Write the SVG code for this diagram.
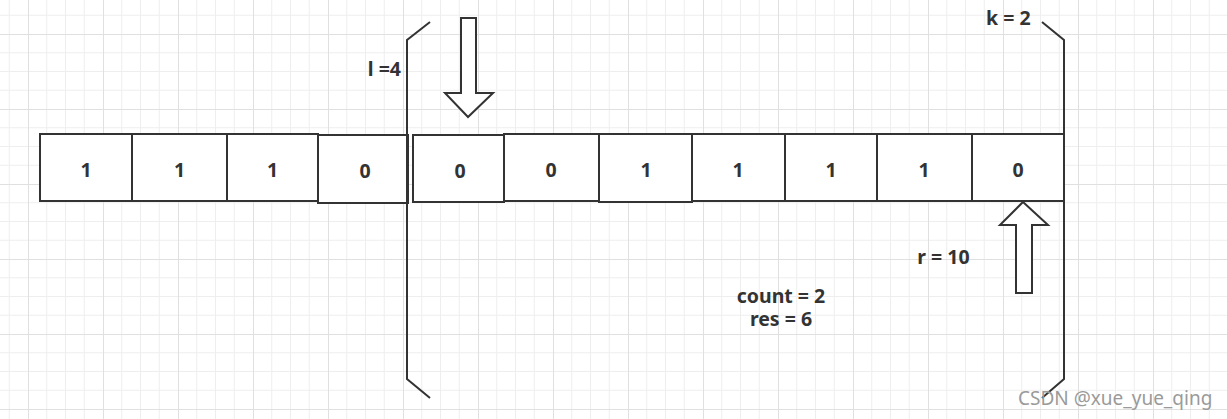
<svg xmlns="http://www.w3.org/2000/svg" width="1227" height="419" viewBox="0 0 1227 419">
<style>
.cell rect{fill:#fff;stroke:#333;stroke-width:2}
.lbl{font-family:"Noto Sans","Open Sans","Liberation Sans",sans-serif;font-weight:bold;font-size:19.5px;fill:#333}
.num{text-anchor:middle}
.br{fill:none;stroke:#333;stroke-width:2}
.arr{fill:#fff;stroke:#333;stroke-width:2;stroke-linejoin:miter}
.wm{font-family:"Noto Sans","Liberation Sans",sans-serif;font-size:19px;fill:#9a9a9a}
</style>
<defs>
<pattern id="grid" x="28" y="34" width="75" height="75" patternUnits="userSpaceOnUse">
<path d="M18.75 0V75M37.5 0V75M56.25 0V75M0 18.75H75M0 37.5H75M0 56.25H75" stroke="#eeeeee" stroke-width="1" fill="none"/>
<path d="M0.5 0V75M0 0.5H75" stroke="#e0e0e0" stroke-width="1" fill="none"/>
</pattern>
</defs>
<rect width="1227" height="419" fill="#fff"/>
<rect width="1227" height="419" fill="url(#grid)"/>

<g id="cells">
<g id="c0" class="cell"><rect x="40" y="134" width="92" height="67"/><text class="lbl num" x="86" y="176.5">1</text></g>
<g id="c1" class="cell"><rect x="132" y="134" width="95" height="67"/><text class="lbl num" x="179.5" y="176.5">1</text></g>
<g id="c2" class="cell"><rect x="227" y="134" width="91" height="67"/><text class="lbl num" x="272.5" y="176.5">1</text></g>
<g id="c3" class="cell"><rect x="318" y="135" width="90" height="68"/><text class="lbl num" x="365" y="177.5">0</text></g>
<g id="c4" class="cell"><rect x="413" y="135" width="91" height="67"/><text class="lbl num" x="460" y="177.5">0</text></g>
<g id="c5" class="cell"><rect x="504" y="134" width="95" height="67"/><text class="lbl num" x="551" y="176.5">0</text></g>
<g id="c6" class="cell"><rect x="599" y="134" width="93" height="68"/><text class="lbl num" x="646" y="176.5">1</text></g>
<g id="c7" class="cell"><rect x="692" y="134" width="93" height="67"/><text class="lbl num" x="738" y="176.5">1</text></g>
<g id="c8" class="cell"><rect x="785" y="134" width="92" height="67"/><text class="lbl num" x="831" y="176.5">1</text></g>
<g id="c9" class="cell"><rect x="877" y="134" width="95" height="67"/><text class="lbl num" x="924" y="176.5">1</text></g>
<g id="c10" class="cell"><rect x="972" y="134" width="92" height="67"/><text class="lbl num" x="1018" y="176.5">0</text></g>
</g>

<g id="connectors">
<path id="bracket-left" class="br" d="M430 22L407 40V379L430 398"/>
<path id="bracket-right" class="br" d="M1042 22L1064 40V379L1042 398"/>
</g>

<g id="arrow-l">
<polygon class="arr" points="461,18 476,18 476,93 493,93 468,117 445,93 461,93"/>
</g>
<g id="arrow-r">
<polygon class="arr" points="1023,202 1048,225 1032,225 1032,293 1016,293 1016,225 1000,225"/>
</g>

<g id="label-l"><text class="lbl" x="401" y="76" text-anchor="end">l =4</text></g>
<g id="label-k"><text class="lbl" x="986" y="25">k = 2</text></g>
<g id="label-r"><text class="lbl" x="943.5" y="264" text-anchor="middle">r = 10</text></g>
<g id="label-count"><text class="lbl" x="781" y="302.5" text-anchor="middle">count = 2</text><text class="lbl" x="781" y="325.5" text-anchor="middle">res = 6</text></g>

<text class="wm" x="1018" y="405">CSDN @xue_yue_qing</text>
</svg>
